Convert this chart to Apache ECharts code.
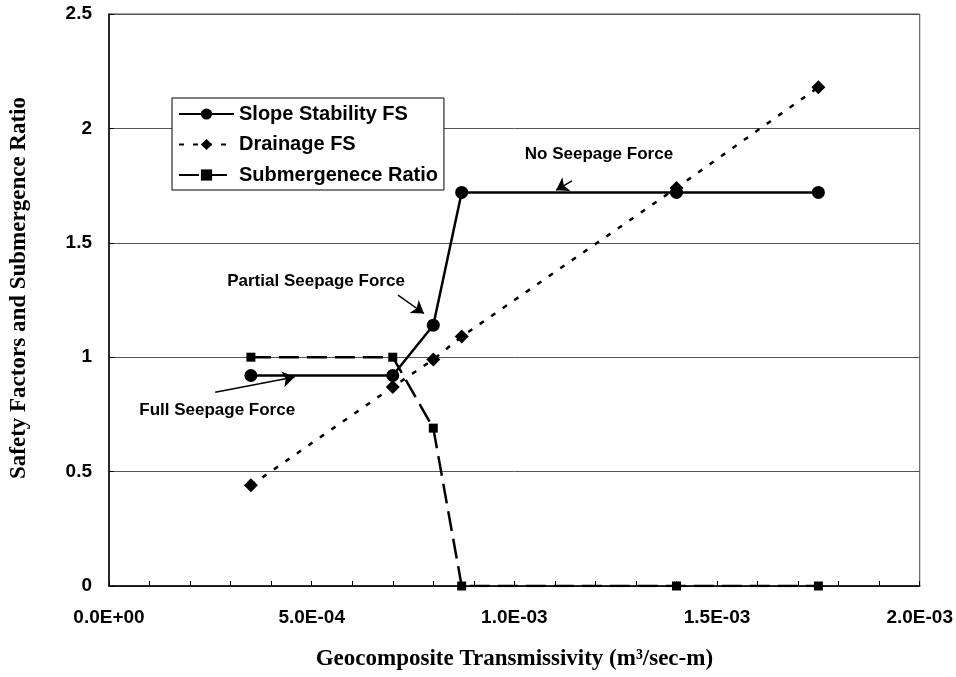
<!DOCTYPE html>
<html>
<head>
<meta charset="utf-8">
<script src="https://cdn.jsdelivr.net/npm/echarts@6/dist/echarts.min.js"></script>
<style>html,body{margin:0;padding:0;background:#fff}#c{width:956px;height:677px}</style>
</head>
<body>
<div id="c"></div>
<script>
const transmissivity = [3.5e-4, 7.0e-4, 8.0e-4, 8.7e-4, 1.4e-3, 1.75e-3];
const slopeStabilityFS = [0.92, 0.92, 1.14, 1.72, 1.72, 1.72];
const drainageFS = [0.44, 0.87, 0.99, 1.09, 1.74, 2.18];
const submergenceRatio = [1.0, 1.0, 0.69, 0.0, 0.0, 0.0];
const yTicks = [0, 0.5, 1, 1.5, 2, 2.5];
const annotations = [
  {text: 'Full Seepage Force', from: [2.62e-4, 0.847], to: [4.58e-4, 0.913]},
  {text: 'Partial Seepage Force', from: [7.13e-4, 1.271], to: [7.77e-4, 1.191]},
  {text: 'No Seepage Force', from: [1.142e-3, 1.771], to: [1.103e-3, 1.730]}
];

const pairs = (ys) => transmissivity.map((x, i) => [x, ys[i]]);
const fmtX = (v) => {
  const [m, e] = Number(v).toExponential(1).split('e');
  return m + 'E' + e[0] + e.slice(1).padStart(2, '0');
};
const SANS = 'Liberation Sans, Arial, sans-serif';
const SERIF = 'Liberation Serif, Times New Roman, serif';

const chart = echarts.init(document.getElementById('c'));
chart.setOption({
  animation: false,
  backgroundColor: '#fff',
  grid: {left: 107, right: 36, top: 14, bottom: 91, show: true, borderColor: '#444', borderWidth: 1},
  legend: {
    orient: 'vertical', left: 172, top: 98,
    backgroundColor: '#fff', borderColor: '#000', borderWidth: 1,
    padding: [6, 6, 5, 6], itemGap: 10.5, itemWidth: 55, itemHeight: 14,
    textStyle: {fontFamily: SANS, fontWeight: 'bold', fontSize: 20, color: '#000'},
    data: ['Slope Stability FS', 'Drainage FS', 'Submergenece Ratio']
  },
  xAxis: {
    type: 'value', min: 0, max: 0.002, interval: 0.0005,
    name: 'Geocomposite Transmissivity (m³/sec-m)', nameLocation: 'middle', nameGap: 62,
    nameTextStyle: {fontFamily: SERIF, fontWeight: 'bold', fontSize: 23, color: '#000'},
    axisLine: {lineStyle: {color: '#000', width: 1.5}},
    axisTick: {inside: true, length: 5, lineStyle: {color: '#000'}},
    minorTick: {show: true, splitNumber: 5, length: 5, lineStyle: {color: '#000'}},
    splitLine: {show: false},
    axisLabel: {formatter: fmtX, margin: 22, fontFamily: SANS, fontWeight: 'bold', fontSize: 19, color: '#000'}
  },
  yAxis: {
    type: 'value', min: 0, max: 2.5, interval: 0.5,
    name: 'Safety Factors and Submergence Ratio', nameLocation: 'middle', nameGap: 78,
    nameTextStyle: {fontFamily: SERIF, fontWeight: 'bold', fontSize: 23, color: '#000', padding: [0, 0, 0, 24]},
    axisLine: {show: true, lineStyle: {color: '#000', width: 1.5}},
    axisTick: {show: true, inside: true, length: 5, lineStyle: {color: '#000'}},
    splitLine: {show: true, lineStyle: {color: '#555', width: 1}},
    axisLabel: {formatter: (v) => String(yTicks.find(t => Math.abs(t - v) < 1e-9) ?? v), margin: 17,
      fontFamily: SANS, fontWeight: 'bold', fontSize: 19, color: '#000'}
  },
  series: [
    {
      name: 'Slope Stability FS', type: 'line', data: pairs(slopeStabilityFS),
      symbol: 'circle', symbolSize: 13, z: 3,
      lineStyle: {color: '#000', width: 2.5, type: 'solid'},
      itemStyle: {color: '#000'}
    },
    {
      name: 'Drainage FS', type: 'line', data: pairs(drainageFS),
      symbol: 'diamond', symbolSize: 14, z: 2,
      lineStyle: {color: '#000', width: 2.5, type: [5, 9]},
      itemStyle: {color: '#000'}
    },
    {
      name: 'Submergenece Ratio', type: 'line', data: pairs(submergenceRatio),
      symbol: 'rect', symbolSize: 9, z: 2,
      lineStyle: {color: '#000', width: 2.5, type: [20, 8]},
      itemStyle: {color: '#000'}
    },
    {
      name: 'annotations', type: 'line', data: [], silent: true,
      markLine: {
        silent: true, symbol: ['none', 'arrow'], symbolSize: 12,
        lineStyle: {color: '#000', width: 1.5, type: 'solid'},
        label: {show: false},
        data: annotations.map(a => [{coord: a.from}, {coord: a.to}])
      }
    }
  ]
});

function placeText() {
  const style = {fontFamily: SANS, fontWeight: 'bold', fontSize: 17, fill: '#000'};
  const offsets = [[2, 18], [-82, -14], [27, -26]];
  chart.setOption({
    graphic: annotations.map((a, i) => {
      const p = chart.convertToPixel({gridIndex: 0}, a.from);
      return {type: 'text', x: p[0] + offsets[i][0], y: p[1] + offsets[i][1],
        style: Object.assign({text: a.text, textAlign: 'center', textVerticalAlign: 'middle'}, style)};
    })
  });
}
placeText();
</script>
</body>
</html>
